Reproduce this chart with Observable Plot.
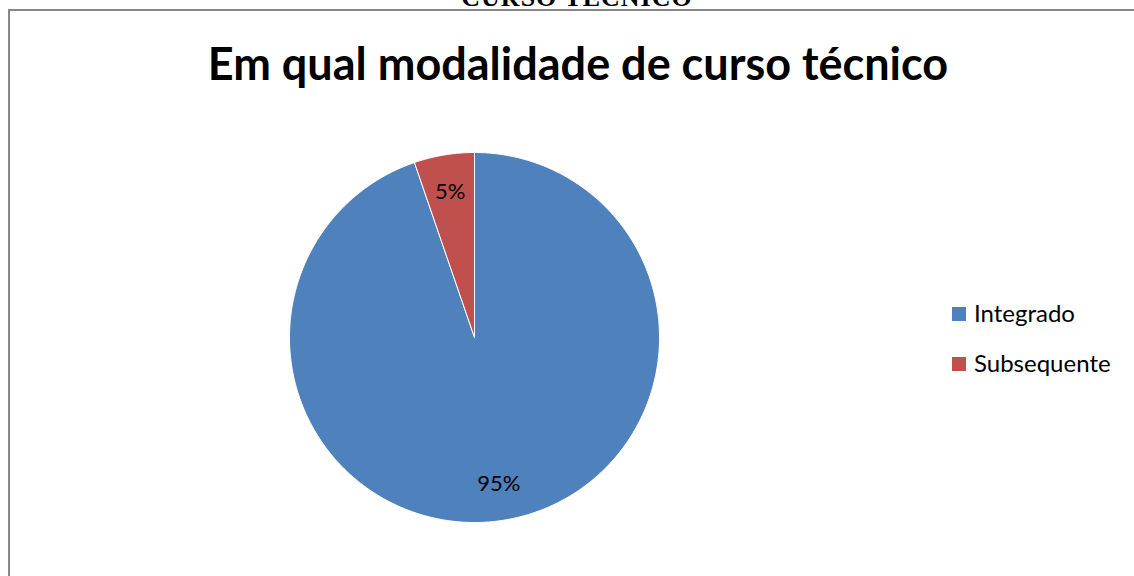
<!DOCTYPE html>
<html>
<head>
<meta charset="utf-8">
<script src="https://cdn.jsdelivr.net/npm/d3@7"></script>
<script src="https://cdn.jsdelivr.net/npm/@observablehq/plot@0.6"></script>
<style>
  html, body { margin: 0; padding: 0; background: #fff; }
  #wrap { position: relative; width: 1134px; height: 576px; overflow: hidden; font-family: Lato, "Open Sans", sans-serif; }
  #frame { position: absolute; left: 8px; top: 9px; width: 1200px; height: 700px; border: 2px solid #878787; box-sizing: border-box; }
  #heading { position: absolute; left: 0; width: 1154px; top: -17px; text-align: center; font-family: "Liberation Serif", serif; font-weight: bold; font-size: 26px; color: #000; letter-spacing: 1px; }
  #title { position: absolute; left: 0; width: 1156px; top: 36px; text-align: center; font-weight: bold; font-size: 45px; color: #000; }
  #chart { position: absolute; left: 0; top: 0; }
  .leg { position: absolute; left: 952px; font-size: 24px; color: #000; }
  .leg span.sw { position: absolute; left: 0; top: 0; width: 14px; height: 14px; }
  .leg span.lb { position: absolute; left: 22px; top: -9px; white-space: nowrap; line-height: 30px; }
</style>
</head>
<body>
<div id="wrap">
  <div id="heading">CURSO TÉCNICO</div>
  <div id="frame"></div>
  <div id="title">Em qual modalidade de curso técnico</div>
  <div id="chart"></div>
  <div id="legend"></div>
</div>
<script>
const categories = ["Integrado", "Subsequente"];
const values = [18, 1];
const colors = ["#4F81BD", "#C0504D"];

const total = d3.sum(values);
const pie = d3.pie().sort(null).value(d => d.value);
const arcs = pie(categories.map((c, i) => ({category: c, value: values[i]})));

// outline points of each slice (angles measured clockwise from 12 o'clock)
const outline = [];
arcs.forEach(a => {
  const cat = a.data.category;
  outline.push({category: cat, x: 0, y: 0});
  const n = Math.max(2, Math.ceil((a.endAngle - a.startAngle) / 0.01));
  for (let k = 0; k <= n; k++) {
    const t = a.startAngle + (a.endAngle - a.startAngle) * k / n;
    outline.push({category: cat, x: Math.sin(t), y: Math.cos(t)});
  }
  outline.push({category: cat, x: 0, y: 0});
});

const labels = arcs.map(a => {
  const m = (a.startAngle + a.endAngle) / 2;
  const r = 0.8;
  return {category: a.data.category, x: r * Math.sin(m), y: r * Math.cos(m),
          text: Math.round(a.data.value / total * 100) + "%"};
});

const chart = Plot.plot({
  width: 1134,
  height: 576,
  margin: 0,
  x: {domain: [-1, 1], range: [289, 659], axis: null},
  y: {domain: [-1, 1], range: [522, 152], axis: null},
  color: {domain: categories, range: colors},
  marks: [
    Plot.line(outline, {x: "x", y: "y", z: "category", fill: "category", stroke: "#ffffff", strokeWidth: 1, curve: "linear"}),
    Plot.text(labels, {x: "x", y: "y", text: "text", fontSize: 22, fill: "#000", fontFamily: "Lato, 'Open Sans', sans-serif"})
  ],
  style: {background: "transparent", overflow: "visible"}
});
document.getElementById("chart").appendChild(chart);

const legend = document.getElementById("legend");
categories.forEach((c, i) => {
  const item = document.createElement("div");
  item.className = "leg";
  item.style.top = (307 + i * 50) + "px";
  item.innerHTML = `<span class="sw" style="background:${colors[i]}"></span><span class="lb">${c}</span>`;
  legend.appendChild(item);
});
</script>
</body>
</html>
